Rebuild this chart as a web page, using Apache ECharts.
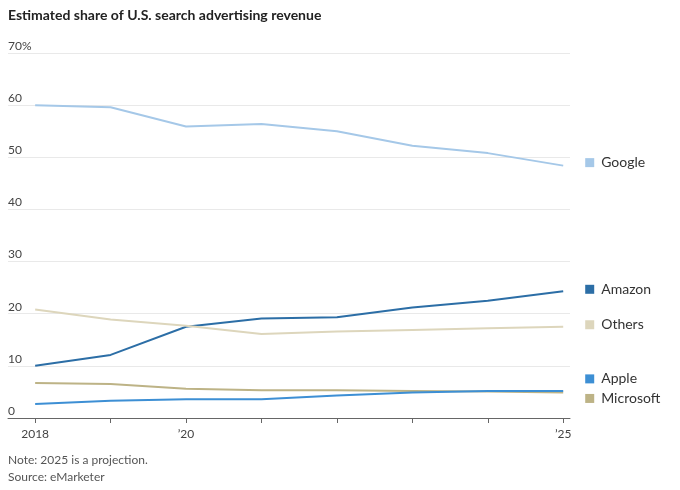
<!DOCTYPE html>
<html>
<head>
<meta charset="utf-8">
<title>Estimated share of U.S. search advertising revenue</title>
<script src="https://cdn.jsdelivr.net/npm/echarts@6/dist/echarts.min.js"></script>
<style>
  html, body { margin: 0; padding: 0; background: #fff; }
  #chart { width: 680px; height: 490px; }
</style>
</head>
<body>
<div id="chart"></div>
<script>
// years on the x axis
const years = [2018, 2019, 2020, 2021, 2022, 2023, 2024, 2025]
const yearLabels = { 2018: '2018', 2020: '\u201920', 2025: '\u201925' }
const yTicks = [0, 10, 20, 30, 40, 50, 60, 70]

// share of revenue, percent
const google = [60.0, 59.6, 55.9, 56.4, 55.0, 52.2, 50.8, 48.4]
const amazon = [10.0, 12.1, 17.5, 19.1, 19.3, 21.2, 22.5, 24.3]
const others = [20.8, 18.9, 17.7, 16.1, 16.6, 16.9, 17.2, 17.5]
const apple = [2.7, 3.3, 3.6, 3.6, 4.3, 4.9, 5.2, 5.2]
const microsoft = [6.7, 6.5, 5.6, 5.3, 5.3, 5.2, 5.1, 4.9]

const font = 'Lato, "Noto Sans", sans-serif'

// a line series with its name drawn as a legend-like end label
function makeSeries (name, values, color, dy) {
  return {
    name: name,
    type: 'line',
    data: years.map((y, i) => [y, values[i]]),
    showSymbol: false,
    symbol: 'none',
    lineStyle: { color: color, width: 2 },
    itemStyle: { color: color },
    emphasis: { disabled: true },
    endLabel: {
      show: true,
      distance: 22,
      offset: [0, dy],
      formatter: '{sq|}{t|' + name + '}',
      rich: {
        sq: { width: 9, height: 9, backgroundColor: color },
        t: { fontFamily: font, fontSize: 14, color: '#333', padding: [0, 0, 0, 7] }
      }
    }
  }
}

const myChart = echarts.init(document.getElementById('chart'))

const option = {
  animation: false,
  textStyle: { fontFamily: font },
  title: {
    text: 'Estimated share of U.S. search advertising revenue',
    left: 8,
    top: 8,
    padding: 0,
    textStyle: { fontFamily: font, fontSize: 14, fontWeight: 'bold', color: '#222' }
  },
  grid: { left: 8, right: 110, top: 53, bottom: 72 },
  xAxis: {
    type: 'value',
    min: 2017.64,
    max: 2025.09,
    splitLine: { show: false },
    axisLine: { lineStyle: { color: '#666', width: 1 } },
    axisTick: { show: true, length: 5, lineStyle: { color: '#666' }, customValues: years },
    axisLabel: {
      customValues: [2018, 2020, 2025],
      formatter: v => yearLabels[v] || '',
      color: '#444',
      fontSize: 12,
      margin: 10
    }
  },
  yAxis: {
    type: 'value',
    min: 0,
    max: 70,
    interval: 10,
    axisLine: { show: false },
    axisTick: { show: false },
    splitLine: { lineStyle: { color: '#e9e9e9', width: 1 } },
    axisLabel: {
      inside: true,
      verticalAlign: 'bottom',
      margin: 0,
      padding: [0, 0, 1, 0],
      color: '#444',
      fontSize: 12,
      formatter: v => (v === yTicks[yTicks.length - 1] ? v + '%' : String(v)),
      showMinLabel: true
    }
  },
  series: [
    makeSeries('Google', google, '#a5c8e8', -3),
    makeSeries('Amazon', amazon, '#2c6ea6', -2),
    makeSeries('Others', others, '#ddd6bc', -2),
    makeSeries('Microsoft', microsoft, '#bdb386', 6),
    makeSeries('Apple', apple, '#3d8fd4', -12)
  ],
  graphic: [
    { type: 'text', left: 8, top: 454, style: { text: 'Note: 2025 is a projection.', font: '12px ' + font, fill: '#555' } },
    { type: 'text', left: 8, top: 471, style: { text: 'Source: eMarketer', font: '12px ' + font, fill: '#555' } }
  ]
}

myChart.setOption(option)
</script>
</body>
</html>
